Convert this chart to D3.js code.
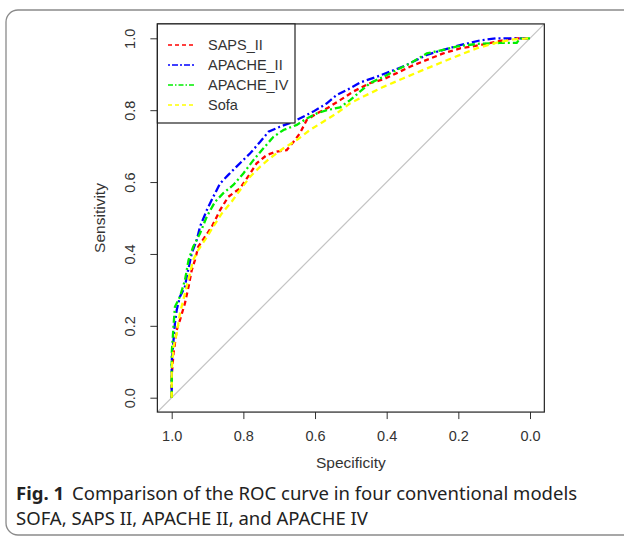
<!DOCTYPE html>
<html><head><meta charset="utf-8">
<script src="https://cdn.jsdelivr.net/npm/d3@7"></script>
<style>body{margin:0;background:#fff}svg{display:block}</style>
</head><body>
<script>
const seriesNames = ["SAPS_II","APACHE_II","APACHE_IV","Sofa"];
const seriesColors = ["#ff0000","#0000ff","#00ee00","#ffff00"];
const xTicks = [1.0,0.8,0.6,0.4,0.2,0.0];
const yTicks = [0.0,0.2,0.4,0.6,0.8,1.0];
// [specificity, sensitivity]
const sapsII = [[1,0],[1,0.06],[0.995,0.123],[0.991,0.151],[0.986,0.188],[0.977,0.216],[0.963,0.263],[0.953,0.309],[0.944,0.355],[0.935,0.383],[0.926,0.42],[0.907,0.448],[0.888,0.476],[0.865,0.522],[0.842,0.559],[0.809,0.583],[0.781,0.624],[0.763,0.652],[0.735,0.675],[0.707,0.685],[0.679,0.689],[0.66,0.712],[0.642,0.736],[0.623,0.773],[0.595,0.791],[0.567,0.805],[0.53,0.828],[0.493,0.852],[0.447,0.875],[0.409,0.886],[0.372,0.903],[0.335,0.921],[0.288,0.94],[0.242,0.958],[0.195,0.972],[0.14,0.981],[0.093,0.991],[0.047,1],[0,1]];
const apacheII = [[1,0],[1,0.1],[0.991,0.207],[0.986,0.244],[0.977,0.281],[0.963,0.309],[0.958,0.337],[0.944,0.402],[0.93,0.439],[0.921,0.476],[0.902,0.522],[0.884,0.559],[0.865,0.596],[0.842,0.62],[0.819,0.643],[0.781,0.68],[0.753,0.712],[0.73,0.74],[0.698,0.754],[0.66,0.768],[0.605,0.796],[0.567,0.819],[0.54,0.842],[0.502,0.861],[0.474,0.877],[0.428,0.893],[0.391,0.907],[0.344,0.926],[0.288,0.954],[0.242,0.968],[0.195,0.981],[0.14,0.994],[0.093,1],[0,1]];
const apacheIV = [[1,0],[1,0.123],[0.995,0.198],[0.991,0.253],[0.977,0.281],[0.963,0.327],[0.953,0.383],[0.94,0.42],[0.921,0.457],[0.902,0.504],[0.879,0.545],[0.856,0.569],[0.828,0.592],[0.8,0.624],[0.772,0.661],[0.744,0.694],[0.716,0.726],[0.688,0.745],[0.651,0.759],[0.623,0.777],[0.595,0.791],[0.567,0.8],[0.53,0.808],[0.502,0.828],[0.474,0.852],[0.447,0.875],[0.409,0.893],[0.372,0.912],[0.335,0.93],[0.288,0.958],[0.242,0.968],[0.195,0.979],[0.14,0.985],[0.084,0.987],[0.037,0.987],[0.028,1],[0,1]];
const sofa = [[1,0],[1,0.077],[0.995,0.142],[0.986,0.179],[0.977,0.235],[0.963,0.29],[0.949,0.346],[0.94,0.383],[0.926,0.411],[0.907,0.439],[0.884,0.476],[0.86,0.513],[0.833,0.545],[0.809,0.578],[0.781,0.615],[0.753,0.643],[0.726,0.666],[0.688,0.694],[0.651,0.717],[0.614,0.745],[0.577,0.768],[0.54,0.791],[0.502,0.819],[0.465,0.838],[0.409,0.865],[0.353,0.889],[0.298,0.912],[0.242,0.935],[0.195,0.954],[0.149,0.972],[0.093,0.988],[0.047,0.997],[0,1]];
const seriesData = [sapsII, apacheII, apacheIV, sofa];
const dashes = ["5,3.5","2,3,8,3","7,3,2,3","6,4"];
const legendDashes = ["4,3","2,2,6,2","5,2,1.5,2","4,3"];

const W=624,H=540;
const svg = d3.select("body").append("svg").attr("width",W).attr("height",H);
svg.append("rect").attr("x",6).attr("y",10).attr("width",660).attr("height",525).attr("rx",12)
  .attr("fill","#fff").attr("stroke","#8a8a8a").attr("stroke-width",1.3);

const x = d3.scaleLinear().domain([1,0]).range([171.7,530]);
const y = d3.scaleLinear().domain([0,1]).range([397.7,38.3]);
const L = x(1.04), R = x(-0.04), T = y(1.04), B = y(-0.04);

svg.append("clipPath").attr("id","clip").append("rect").attr("x",L).attr("y",T).attr("width",R-L).attr("height",B-T);
const g = svg.append("g").attr("clip-path","url(#clip)");
g.append("line").attr("x1",x(1.04)).attr("y1",y(-0.04)).attr("x2",x(-0.04)).attr("y2",y(1.04))
  .attr("stroke","#c4c4c4").attr("stroke-width",1.2);

const line = d3.line().x(d=>x(d[0])).y(d=>y(d[1]));
seriesData.forEach((d,i)=>{
  g.append("path").attr("d",line(d)).attr("fill","none").attr("stroke",seriesColors[i])
   .attr("stroke-width",2.3).attr("stroke-dasharray",dashes[i]);
});

// axes
const font = "'Liberation Sans', Arial, sans-serif";
const xa = svg.append("g").attr("transform",`translate(0,${B})`)
  .call(d3.axisBottom(x).tickValues(xTicks).tickSize(7).tickPadding(12).tickFormat(d3.format(".1f")));
xa.select(".domain").remove();
xa.selectAll("line").attr("stroke","#333");
xa.selectAll("text").attr("font-family",font).attr("font-size",14.5).attr("fill","#333");

const ya = svg.append("g").attr("transform",`translate(${L},0)`)
  .call(d3.axisLeft(y).tickValues(yTicks).tickSize(7).tickFormat(d3.format(".1f")));
ya.select(".domain").remove();
ya.selectAll("line").attr("stroke","#333");
ya.selectAll("text").attr("font-family",font).attr("font-size",14.5).attr("fill","#333")
  .attr("text-anchor","middle").attr("dy",null).attr("x",null)
  .attr("transform",d=>`translate(-27,0) rotate(-90)`).attr("dy","0.35em");

svg.append("rect").attr("x",L).attr("y",T).attr("width",R-L).attr("height",B-T)
  .attr("fill","none").attr("stroke","#222").attr("stroke-width",1.2);

svg.append("text").attr("x",(L+R)/2).attr("y",468).attr("text-anchor","middle")
  .attr("font-family",font).attr("font-size",15.5).attr("fill","#333").text("Specificity");
svg.append("text").attr("transform",`translate(105,${(T+B)/2}) rotate(-90)`).attr("text-anchor","middle")
  .attr("font-family",font).attr("font-size",15.5).attr("fill","#333").text("Sensitivity");

// legend
const lg = svg.append("g");
lg.append("rect").attr("x",L).attr("y",T).attr("width",295-L).attr("height",123-T)
  .attr("fill","#fff").attr("stroke","#222").attr("stroke-width",1.2);
seriesNames.forEach((n,i)=>{
  const yy = 45 + i*20;
  lg.append("line").attr("x1",168).attr("x2",196).attr("y1",yy).attr("y2",yy)
    .attr("stroke",seriesColors[i]).attr("stroke-width",1.3).attr("stroke-dasharray",legendDashes[i]);
  lg.append("text").attr("x",208).attr("y",yy).attr("dy","0.35em").attr("font-family",font)
    .attr("font-size",14.5).attr("fill","#333").text(n);
});

// caption
const cf = "'Noto Sans', 'Open Sans', sans-serif";
const c1 = svg.append("text").attr("x",16).attr("y",500).attr("font-family",cf).attr("font-size",17).attr("fill","#222");
c1.append("tspan").attr("font-weight","bold").text("Fig. 1");
c1.append("tspan").attr("dx",8).text("Comparison of the ROC curve in four conventional models");
const c2 = svg.append("text").attr("x",16).attr("y",525).attr("font-family",cf).attr("font-size",17).attr("fill","#222")
  .text("SOFA, SAPS II, APACHE II, and APACHE IV");
const w1 = c1.node().getBBox().width;
const fs = Math.max(14, Math.min(19, 17*562/w1));
c1.attr("font-size",fs); c2.attr("font-size",fs);
</script>
</body></html>
